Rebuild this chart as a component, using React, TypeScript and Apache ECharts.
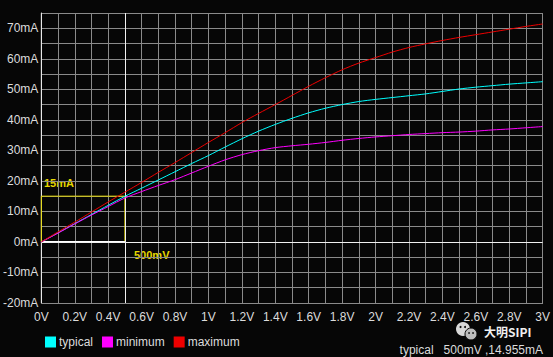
import React, { useEffect, useRef } from "react";
import * as echarts from "echarts";

const voltage = [0, 0.1, 0.2, 0.3, 0.4, 0.5, 0.6, 0.7, 0.8, 0.9, 1.0, 1.1, 1.2, 1.3, 1.4, 1.5, 1.6, 1.7, 1.8, 1.9, 2.0, 2.1, 2.2, 2.3, 2.4, 2.5, 2.6, 2.7, 2.8, 2.9, 3.0];
const typical = [0, 3.0, 6.0, 9.0, 12.0, 14.955, 17.6, 20.3, 23.0, 25.7, 28.3, 31.1, 33.8, 36.3, 38.5, 40.5, 42.3, 43.8, 45.0, 46.0, 46.7, 47.3, 47.9, 48.5, 49.3, 50.1, 50.7, 51.2, 51.7, 52.1, 52.5];
const minimum = [0, 2.9, 5.9, 8.8, 11.6, 14.4, 16.5, 18.5, 20.4, 22.6, 24.8, 26.9, 28.6, 29.9, 30.9, 31.5, 32.0, 32.6, 33.3, 33.9, 34.4, 34.8, 35.2, 35.5, 35.8, 36.0, 36.3, 36.7, 37.0, 37.4, 37.8];
const maximum = [0, 3.3, 6.5, 9.8, 13.1, 16.3, 19.5, 22.8, 26.0, 29.3, 32.6, 35.8, 39.1, 42.1, 45.0, 48.0, 51.0, 53.8, 56.4, 58.6, 60.4, 62.2, 63.7, 64.9, 66.0, 67.0, 67.9, 68.8, 69.7, 70.6, 71.4];
const seriesNames = ["typical", "minimum", "maximum"];
const seriesColors = ["#00ffff", "#ff00ff", "#ee0000"];
const cursorV = 0.5;
const cursorI = 15;
const cursorLabelI = "15mA";
const cursorLabelV = "500mV";
const readout = "typical   500mV ,14.955mA";
const watermark = "大明SIPI";

const FONT = "'Liberation Sans', Arial, sans-serif";

export default function App() {
  const ref = useRef<HTMLDivElement>(null);
  useEffect(() => {
    if (!ref.current) return;
    const chart = echarts.init(ref.current, null, { renderer: "svg" });
    const values = [typical, minimum, maximum];
    const curves = seriesNames.map((name, i) => ({
      name,
      type: "line",
      data: voltage.map((v, k) => [v, values[i][k]]),
      showSymbol: false,
      symbol: "none",
      smooth: 0.25,
      lineStyle: { color: seriesColors[i], width: 1 },
      itemStyle: { color: seriesColors[i] },
      z: 5,
    }));
    chart.setOption({
      animation: false,
      backgroundColor: "#060606",
      textStyle: { fontFamily: FONT },
      grid: { left: 40, right: 10, top: 13, bottom: 54, containLabel: false },
      xAxis: {
        type: "value",
        min: 0,
        max: 3,
        interval: 0.1,
        axisLine: { show: true, onZero: false, lineStyle: { color: "#8a8a8a" } },
        axisTick: { show: false },
        axisLabel: {
          color: "#dcdcdc",
          fontSize: 12,
          fontFamily: FONT,
          margin: 8,
          showMinLabel: true,
          showMaxLabel: true,
          formatter: (v: number) => {
            const t = Math.round(v * 10);
            return t % 2 === 0 ? parseFloat((t / 10).toFixed(1)) + "V" : "";
          },
        },
        splitLine: { show: true, lineStyle: { color: "#8a8a8a", width: 1 } },
      },
      yAxis: {
        type: "value",
        min: -20,
        max: 75,
        interval: 5,
        axisLine: { show: true, onZero: false, lineStyle: { color: "#e8e8e8" } },
        axisTick: { show: false },
        axisLabel: {
          color: "#dcdcdc",
          fontSize: 12,
          fontFamily: FONT,
          margin: 3,
          formatter: (v: number) => (Math.round(v) % 10 === 0 ? Math.round(v) + "mA" : ""),
        },
        splitLine: { show: true, lineStyle: { color: "#8a8a8a", width: 1 } },
      },
      legend: {
        data: seriesNames,
        left: 40,
        top: 331,
        icon: "rect",
        itemWidth: 11,
        itemHeight: 11,
        itemGap: 9,
        textStyle: { color: "#dcdcdc", fontSize: 12, fontFamily: FONT, padding: [0, 0, 0, -2] },
      },
      series: [
        {
          name: "cursor",
          type: "line",
          data: [[0, -20], [0, 75]],
          showSymbol: false,
          symbol: "none",
          lineStyle: { color: "#e8e8e8", width: 1 },
          z: 1,
          markLine: {
            silent: true,
            symbol: "none",
            label: { show: false },
            lineStyle: { color: "#f0f0f0", width: 1, type: "solid" },
            data: [{ yAxis: 0 }, { xAxis: cursorV }],
          },
        },
        {
          name: "cursorBox",
          type: "line",
          data: [[0, 0], [0, cursorI], [cursorV, cursorI], [cursorV, 0]],
          showSymbol: false,
          symbol: "none",
          lineStyle: { color: "#e6d800", width: 1 },
          z: 2,
        },
        {
          name: "cursorBase",
          type: "line",
          data: [[0, 0], [cursorV, 0]],
          showSymbol: false,
          symbol: "none",
          lineStyle: { color: "#ffffff", width: 2 },
          z: 2,
        },
        ...curves,
      ],
      graphic: [
        {
          type: "text",
          left: 44,
          top: 177,
          style: { text: cursorLabelI, fill: "#e6d800", font: `bold 11px ${FONT}` },
        },
        {
          type: "text",
          left: 134,
          top: 249,
          style: { text: cursorLabelV, fill: "#e6d800", font: `bold 11px ${FONT}` },
        },
        {
          type: "text",
          right: 10,
          top: 344,
          style: { text: readout, fill: "#dcdcdc", font: `12px ${FONT}` },
        },
        {
          type: "group",
          left: 456,
          top: 322,
          children: [
            { type: "circle", shape: { cx: 7, cy: 7, r: 7 }, style: { fill: "#d8d8d8" } },
            { type: "circle", shape: { cx: 15, cy: 12, r: 6 }, style: { fill: "#bdbdbd", stroke: "#060606", lineWidth: 1 } },
            { type: "circle", shape: { cx: 4.5, cy: 5, r: 1 }, style: { fill: "#060606" } },
            { type: "circle", shape: { cx: 9, cy: 5, r: 1 }, style: { fill: "#060606" } },
            { type: "circle", shape: { cx: 13, cy: 11, r: 0.8 }, style: { fill: "#060606" } },
            { type: "circle", shape: { cx: 17, cy: 11, r: 0.8 }, style: { fill: "#060606" } },
          ],
        },
        {
          type: "text",
          left: 484,
          top: 325,
          style: { text: watermark, fill: "#f0f0f0", font: `bold 12px 'Noto Sans CJK SC', ${FONT}` },
        },
      ],
    });
    return () => chart.dispose();
  }, []);
  return <div ref={ref} style={{ position: "fixed", left: 0, top: 0, width: 553, height: 357 }} />;
}
